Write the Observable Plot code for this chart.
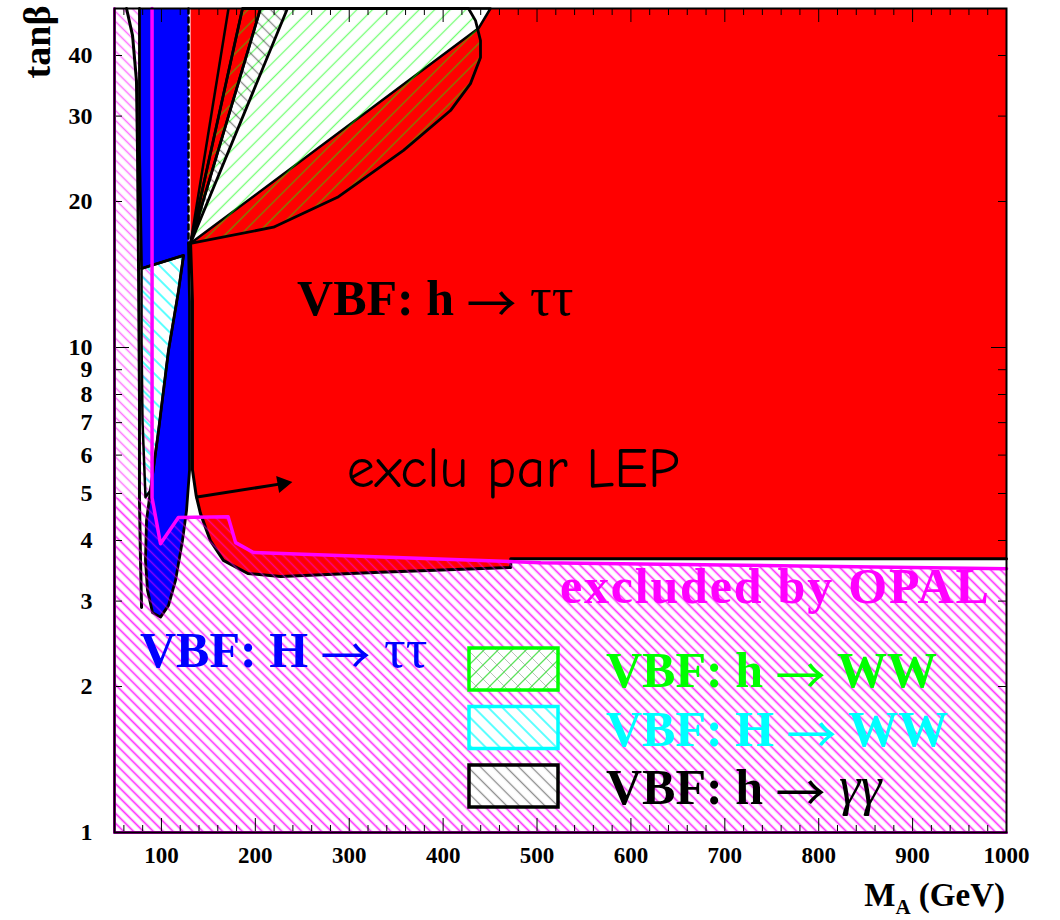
<!DOCTYPE html>
<html>
<head>
<meta charset="utf-8">
<script src="https://cdn.jsdelivr.net/npm/d3@7"></script>
<script src="https://cdn.jsdelivr.net/npm/@observablehq/plot@0.6"></script>
<style>
  body { margin: 0; background: #fff; }
  #chart { width: 1060px; height: 920px; }
</style>
</head>
<body>
<div id="chart"></div>
<script>
// ---------- axis ticks ----------
const xMajorTicks = [100, 200, 300, 400, 500, 600, 700, 800, 900, 1000];
const xMinorTicks = [60, 80, 120, 140, 160, 180, 220, 240, 260, 280, 320, 340, 360, 380,
  420, 440, 460, 480, 520, 540, 560, 580, 620, 640, 660, 680, 720, 740, 760, 780,
  820, 840, 860, 880, 920, 940, 960, 980];
const yMajorTicks = [1, 10];
const yMinorTicks = [2, 3, 4, 5, 6, 7, 8, 9, 20, 30, 40];
const yTickLabels = [1, 2, 3, 4, 5, 6, 7, 8, 9, 10, 20, 30, 40];

// ---------- regions: [M_A (GeV), tanβ] ----------
// OPAL exclusion boundary (magenta line)
const opalLine = [[90, 50], [90, 4.9], [99, 3.94], [118, 4.46], [171, 4.48], [179, 3.96],
  [198, 3.78], [504, 3.6], [1000, 3.5]];
// VBF: h -> tautau (red)
const hTauTau = [[131, 50], [131, 16.4], [133, 12.5], [133, 5.6], [137, 4.95], [141.5, 4.55],
  [152, 4.0], [166, 3.64], [192, 3.42], [227, 3.37], [333, 3.44], [472, 3.52], [472, 3.67],
  [1000, 3.67], [1000, 50]];
// VBF: H -> tautau (blue)
const HTauTau = [[128.8, 50], [128.8, 16.4], [129.9, 12.5], [129.9, 5.58], [126.7, 4.61],
  [122.4, 4.0], [115, 3.31], [107.5, 2.94], [99, 2.78], [90.5, 2.84], [85.1, 3.16], [83, 3.64],
  [84.1, 4.4], [88.3, 5.07], [96.9, 6.74], [107.5, 9.86], [118.2, 13.1], [123.5, 15.48],
  [78.8, 14.55], [76.6, 25.5], [76.6, 50]];
// VBF: H -> WW (cyan hatch)
const HWW = [[78.8, 14.55], [123.5, 15.48], [118.2, 13.1], [107.5, 9.86], [96.9, 6.74],
  [88.3, 5.07], [83, 4.91], [79.8, 7.07], [78.8, 10.3], [78.8, 14.55]];
// VBF: h -> WW (green hatch)
const hWW = [[131, 16.4], [186.3, 50], [427, 50], [434.5, 47.2], [439.8, 42.95], [439.8, 39.6],
  [429.1, 35.0], [407.8, 30.8], [357.8, 25.5], [287.5, 20.4], [219.3, 17.7], [131, 16.4]];
// part of h -> WW not covered by h -> tautau (white)
const hWWonly = [[131, 16.4], [205.5, 50], [450.4, 50], [437.7, 45.5], [131, 16.4]];
// VBF: h -> gamma gamma (black hatch)
const hGG = [[131, 16.4], [205.5, 50], [234.2, 50], [131, 16.4]];
// further contour lines from the common point
const rays = [[131, 16.4, 171.4, 50], [131, 16.4, 186.3, 50]];
// outer black contour on the left
const leftContour = [[62.8, 50], [69.2, 44], [73.4, 35.5], [74.5, 25.5], [75.6, 14.6],
  [76.6, 7.78], [76.6, 4.84], [77.7, 3.64], [78.8, 2.91]];
// "exclu par LEP" arrow: shaft and head
const lepArrow = [{x1: 136.3, y1: 4.91, x2: 229, y2: 5.24}];
const lepArrowHead = [{x: 229, y: 5.24}];

// ---------- texts ----------
const tauLabels = [
  {text: "VBF: h ", greek: "\u03c4\u03c4", m: 245, tanb: 11.64, color: "#000000"},
  {text: "VBF: H ", greek: "\u03c4\u03c4", m: 77.7, tanb: 2.19, color: "#0000ff"}
];
const opalLabel = {text: "excluded by OPAL", m: 525, tanb: 2.97, color: "#ff00ff"};
const lepLabel = {text: "exclu par LEP", m: 298, tanb: 5.14};
const legendLabels = [["VBF: h ", "WW"], ["VBF: H ", "WW"], ["VBF: h ", "\u03b3\u03b3"]];
const legendColors = ["#00ff00", "#00ffff", "#000000"];
const legendHatches = ["legWW", "HwwHatch", "ggHatch"];

// ---------- build tables ----------
const opalRegion = [...opalLine, [1000, 1], [50, 1], [50, 50]];
const opalLower = [[50, 4.9], ...opalLine.slice(1), [1000, 1], [50, 1]];
const X = d => d[0], Y = d => d[1];

const serif = "'Liberation Serif', 'Times New Roman', serif";
const frameH = 920 - 8 - 88, frameW = 1060 - 114 - 54;

const chart = Plot.plot({
  width: 1060, height: 920,
  marginLeft: 114, marginRight: 54, marginTop: 8, marginBottom: 88,
  style: {fontFamily: serif, fontWeight: "bold", fontSize: "23px", background: "white", color: "black"},
  x: {domain: [50, 1000], label: null},
  y: {type: "log", domain: [1, 50], label: null},
  marks: [
    Plot.line(opalRegion, {x: X, y: Y, fill: "url(#opalHatch)", stroke: "none"}),
    Plot.line(hTauTau, {x: X, y: Y, fill: "#ff0000", stroke: "none"}),
    Plot.line(HTauTau, {x: X, y: Y, fill: "#0000ff", stroke: "none"}),
    Plot.line(hWWonly, {x: X, y: Y, fill: "white", stroke: "black", strokeWidth: 2.5}),
    Plot.line(hWW, {x: X, y: Y, fill: "url(#wwHatch)", stroke: "black", strokeWidth: 2.8}),
    Plot.line(hGG, {x: X, y: Y, fill: "url(#ggHatch)", stroke: "black", strokeWidth: 2.8}),
    Plot.line(HWW, {x: X, y: Y, fill: "url(#HwwHatch)", stroke: "black", strokeWidth: 2.5}),
    Plot.link(rays, {x1: d => d[0], y1: d => d[1], x2: d => d[2], y2: d => d[3], stroke: "black", strokeWidth: 2.5}),
    Plot.line(hTauTau.slice(1, -1), {x: X, y: Y, stroke: "black", strokeWidth: 3}),
    Plot.line(HTauTau.slice(1), {x: X, y: Y, stroke: "black", strokeWidth: 2.8}),
    Plot.line(HTauTau.slice(0, 2), {x: X, y: Y, stroke: "black", strokeWidth: 2.5, strokeDasharray: "5,4"}),
    Plot.line(leftContour, {x: X, y: Y, stroke: "black", strokeWidth: 3}),
    Plot.line(opalLower, {x: X, y: Y, fill: "url(#opalHatch)", stroke: "none"}),
    Plot.line(opalLine, {x: X, y: Y, stroke: "#ff00ff", strokeWidth: 3.5}),
    Plot.link(lepArrow, {x1: "x1", y1: "y1", x2: "x2", y2: "y2", stroke: "black", strokeWidth: 3}),
    Plot.dot(lepArrowHead, {x: "x", y: "y", symbol: "triangle", r: 6.4, rotate: 80, fill: "black", stroke: "none"}),
    // ticks drawn inside the frame
    Plot.tickX(xMajorTicks, {x: d => d, insetTop: frameH - 14, stroke: "black", strokeWidth: 1}),
    Plot.tickX(xMinorTicks, {x: d => d, insetTop: frameH - 7, stroke: "black", strokeWidth: 1}),
    Plot.tickX(xMajorTicks, {x: d => d, insetBottom: frameH - 14, stroke: "black", strokeWidth: 1}),
    Plot.tickX(xMinorTicks, {x: d => d, insetBottom: frameH - 7, stroke: "black", strokeWidth: 1}),
    Plot.tickY(yMajorTicks, {y: d => d, insetRight: frameW - 15, stroke: "black", strokeWidth: 1}),
    Plot.tickY(yMinorTicks, {y: d => d, insetRight: frameW - 8, stroke: "black", strokeWidth: 1}),
    Plot.tickY(yMajorTicks, {y: d => d, insetLeft: frameW - 15, stroke: "black", strokeWidth: 1}),
    Plot.tickY(yMinorTicks, {y: d => d, insetLeft: frameW - 8, stroke: "black", strokeWidth: 1}),
    Plot.line(opalRegion.slice(-3), {x: X, y: Y, stroke: "#cc00cc", strokeWidth: 3}),
    Plot.frame({stroke: "black", strokeWidth: 2}),
    Plot.axisX(xMajorTicks, {tickSize: 0, tickPadding: 14, fontSize: 23, fontWeight: "bold", label: null, tickFormat: d => String(d)}),
    Plot.axisY(yTickLabels, {tickSize: 0, tickPadding: 22, fontSize: 24, fontWeight: "bold", label: null, tickFormat: d => String(d)})
  ]
});

document.getElementById("chart").appendChild(chart);

// ---------- patterns ----------
const svg = d3.select(chart);
const defs = svg.insert("defs", ":first-child");
function hatch(id, color, spacing, angle, width, opacity) {
  const p = defs.append("pattern").attr("id", id)
    .attr("patternUnits", "userSpaceOnUse")
    .attr("width", spacing).attr("height", spacing)
    .attr("patternTransform", `rotate(${angle})`);
  p.append("line").attr("x1", spacing / 2).attr("y1", -1).attr("x2", spacing / 2).attr("y2", spacing + 1)
    .attr("stroke", color).attr("stroke-width", width).attr("stroke-opacity", opacity);
  return p;
}
hatch("opalHatch", "#ff00ff", 7, -45, 1.5, 0.55);
hatch("wwHatch", "#00ff00", 11, 45, 1.3, 0.55);
hatch("HwwHatch", "#00ffff", 10, -45, 1.6, 0.8);
hatch("ggHatch", "#000000", 9, -45, 1.3, 0.45);
// legend crosshatch for h -> WW
const lw = defs.append("pattern").attr("id", "legWW").attr("patternUnits", "userSpaceOnUse")
  .attr("width", 14).attr("height", 14);
lw.append("rect").attr("width", 14).attr("height", 14).attr("fill", "white");
lw.append("path").attr("d", "M-1,15 L15,-1 M-1,1 L1,-1 M13,15 L15,13").attr("stroke", "#33dd33").attr("stroke-width", 1.3).attr("stroke-opacity", 0.8);
lw.append("path").attr("d", "M-1,-1 L15,15").attr("stroke", "#99aa99").attr("stroke-width", 1).attr("stroke-opacity", 0.7);

// ---------- annotations ----------
const arrowFont = "'Noto Sans CJK JP', 'DejaVu Sans', sans-serif";
const sx = chart.scale("x"), sy = chart.scale("y");
const ann = svg.append("g").attr("font-family", serif).attr("text-anchor", "start");
function arrowLabel(sel, main, greek, italic) {
  sel.append("tspan").text(main);
  sel.append("tspan").attr("font-family", arrowFont).attr("font-weight", "normal")
    .attr("baseline-shift", "-7px").text("\u2192");
  const g = sel.append("tspan").attr("font-weight", greek === "WW" ? "bold" : "normal")
    .attr("font-size", greek === "WW" ? "1em" : "1.08em").text(" " + greek);
  if (italic) g.attr("font-style", "italic");
}
tauLabels.forEach(l => {
  const t = ann.append("text").attr("x", sx.apply(l.m)).attr("y", sy.apply(l.tanb))
    .attr("fill", l.color).attr("font-size", 50).attr("font-weight", "bold");
  arrowLabel(t, l.text, l.greek, false);
});
ann.append("text").attr("x", sx.apply(opalLabel.m)).attr("y", sy.apply(opalLabel.tanb))
  .attr("fill", opalLabel.color).attr("font-size", 50).attr("letter-spacing", 1.8)
  .attr("font-weight", "bold").text(opalLabel.text);
ann.append("text").attr("x", sx.apply(lepLabel.m)).attr("y", sy.apply(lepLabel.tanb))
  .attr("fill", "black").attr("font-size", 56).attr("font-weight", "normal")
  .attr("font-family", "'Comic Sans MS', 'Comic Neue', Lato, sans-serif").text(lepLabel.text);

// ---------- legend ----------
const leg = svg.append("g").attr("font-family", serif).attr("text-anchor", "start");
legendLabels.forEach((lab, i) => {
  const top = 648 + i * 58.5;
  leg.append("rect").attr("x", 469).attr("y", top).attr("width", 89).attr("height", 42)
    .attr("fill", i === 0 ? "url(#legWW)" : "white").attr("stroke", legendColors[i]).attr("stroke-width", 3.5);
  if (i > 0) leg.append("rect").attr("x", 469).attr("y", top).attr("width", 89).attr("height", 42)
    .attr("fill", `url(#${legendHatches[i]})`).attr("stroke", "none");
  const t = leg.append("text").attr("x", 606).attr("y", top + 39).attr("fill", legendColors[i])
    .attr("font-size", 50).attr("font-weight", "bold");
  arrowLabel(t, lab[0], lab[1], i === 2);
});

// ---------- axis titles ----------
svg.append("text").attr("transform", "translate(50,42) rotate(-90)")
  .attr("text-anchor", "middle").attr("font-family", serif).attr("font-weight", "bold")
  .attr("font-size", 38).text("tan\u03b2");
const xt = svg.append("text").attr("x", 1005).attr("y", 906).attr("text-anchor", "end")
  .attr("font-family", serif).attr("font-weight", "bold").attr("font-size", 33);
xt.append("tspan").text("M");
xt.append("tspan").attr("font-size", 21).attr("dy", 8).text("A");
xt.append("tspan").attr("dy", -8).text(" (GeV)");
</script>
</body>
</html>
